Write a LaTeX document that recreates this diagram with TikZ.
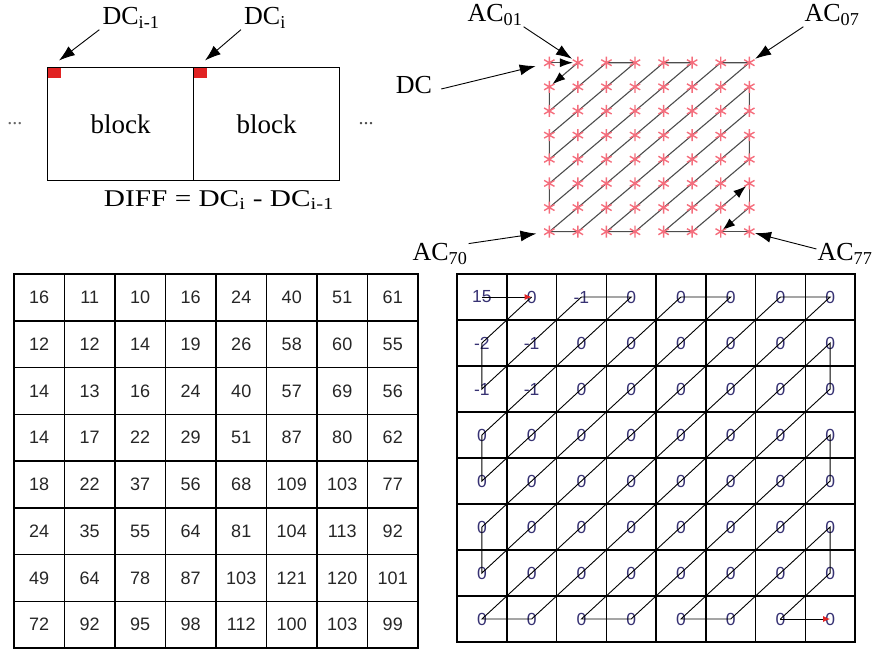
\documentclass[tikz,border=0pt]{standalone}
\usepackage{fontspec}
\setmainfont{Liberation Serif}
\newfontfamily\tabfont{Liberation Sans}
\usetikzlibrary{arrows.meta,positioning}
\definecolor{dcred}{RGB}{225,35,35}
\definecolor{starpink}{RGB}{245,110,125}
\definecolor{coefblue}{RGB}{55,50,115}
\tikzset{
	blockbox/.style={draw, line width=1.3pt, outer sep=0pt, inner sep=0pt,
		minimum width=146pt, minimum height=113pt, font=\fontsize{27}{30}\selectfont},
	lbl/.style={inner sep=1pt, font=\fontsize{26}{30}\selectfont},
	callout/.style={-{Latex[length=16pt,width=11pt]}, line width=0.9pt},
	redsq/.style={fill=dcred, outer sep=0pt, inner sep=0pt, minimum width=13pt, minimum height=10pt},
	acstar/.pic={\draw[starpink, line width=1.4pt] (90:6) -- (270:6) (30:6) -- (210:6)
		(150:6) -- (330:6);},
	scanline/.style={line width=1.1pt, draw=black!70},
	scantip/.style={-{Latex[length=13pt,width=9pt,color=black]}},
	qcell/.style={draw, line width=1.5pt, inner sep=0pt, minimum width=50.5pt, minimum height=46.75pt,
		text=black!85, font=\tabfont\fontsize{18}{20}\selectfont},
	kcell/.style={draw, line width=1.5pt, inner sep=0pt, minimum width=49.75pt, minimum height=46pt,
		text=coefblue, font=\tabfont\fontsize{17.5}{20}\selectfont},
}
\begin{document}
\begin{tikzpicture}[x=1pt,y=1pt]
	\useasboundingbox (0,0) rectangle (880,-649);

	% neighbouring blocks
	\node[blockbox] (blk1) at (120.5,-124) {block};
	\node[blockbox, right=0pt of blk1] (blk2) {block};
	\node[lbl, font=\fontsize{20}{20}\selectfont, text=black!60, left=24pt of blk1] (dotsl) {...};
	\node[lbl, font=\fontsize{20}{20}\selectfont, text=black!70, right=18pt of blk2] (dotsr) {...};
	\node[redsq, anchor=north west] (sq1) at (blk1.north west) {};
	\node[redsq, anchor=north west] (sq2) at (blk2.north west) {};
	\node[lbl] (dcprev) at (131,-18) {DC\textsubscript{i-1}};
	\node[lbl] (dccur) at (265,-18) {DC\textsubscript{i}};
	\draw[callout] ([xshift=-2pt]dcprev.south west) -- ([shift={(5pt,7pt)}]sq1.north);
	\draw[callout] ([xshift=-2pt]dccur.south west) -- ([shift={(5pt,7pt)}]sq2.north);
	\node[lbl, font=\fontsize{24}{28}\selectfont, xscale=1.22] (diff) at (219,-200)
		{DIFF = DC\textsubscript{i} - DC\textsubscript{i-1}};

	% zig-zag order of the coefficients
	\foreach \r in {0,...,7}
		\foreach \c in {0,...,7}
			\coordinate (s-\r-\c) at ({549.3+28.57*\c},{-62.7-24.14*\r});
	\draw[scanline, scantip, shorten >=5pt] (s-0-0) -- (s-0-1);
	\draw[scanline, scantip, shorten >=4pt] (s-0-1) -- (s-1-0);
	\draw[scanline] (s-1-0) \foreach \p in {2-0,0-2,0-3,3-0,4-0,0-4,0-5,5-0,6-0,0-6,0-7,7-0,
		7-1,1-7,2-7,7-2,7-3,3-7,4-7,7-4,7-5} {-- (s-\p)};
	\draw[scanline, scantip, shorten >=4pt] (s-7-5) -- (s-5-7);
	\draw[scanline] (s-5-7) -- (s-6-7);
	\draw[scanline, scantip, shorten >=2pt] (s-6-7) -- (s-7-6);
	\draw[scanline] (s-7-6) -- (s-7-7);
	\foreach \r in {0,...,7}
		\foreach \c in {0,...,7}
			\pic at (s-\r-\c) {acstar};

	\node[lbl] (ac01) at (495,-15) {AC\textsubscript{01}};
	\node[lbl] (ac07) at (832,-15) {AC\textsubscript{07}};
	\node[lbl] (dcl) at (414,-85) {DC};
	\node[lbl] (ac70) at (440,-254) {AC\textsubscript{70}};
	\node[lbl] (ac77) at (845,-254) {AC\textsubscript{77}};
	\draw[callout, shorten >=7pt] (ac01.south east) -- (s-0-1);
	\draw[callout, shorten >=7pt] (ac07.south west) -- (s-0-7);
	\draw[callout, shorten >=14pt] ([shift={(8pt,-4pt)}]dcl.east) -- (s-0-0);
	\draw[callout, shorten >=13pt] (ac70.20) -- (s-7-0);
	\draw[callout, shorten >=6pt] (ac77.170) -- (s-7-7);

	% quantization table
	\foreach \row [count=\r from 0] in {{16,11,10,16,24,40,51,61},{12,12,14,19,26,58,60,55},
		{14,13,16,24,40,57,69,56},{14,17,22,29,51,87,80,62},{18,22,37,56,68,109,103,77},
		{24,35,55,64,81,104,113,92},{49,64,78,87,103,121,120,101},{72,92,95,98,112,100,103,99}}
		\foreach \v [count=\c from 0] in \row
			\node[qcell] (q-\r-\c) at ({39.25+50.5*\c},{-297.4-46.75*\r}) {\v};

	% quantized coefficients
	\foreach \row [count=\r from 0] in {{15,0,-1,0,0,0,0,0},{-2,-1,0,0,0,0,0,0},{-1,-1,0,0,0,0,0,0},
		{0,0,0,0,0,0,0,0},{0,0,0,0,0,0,0,0},{0,0,0,0,0,0,0,0},{0,0,0,0,0,0,0,0},{0,0,0,0,0,0,0,0}}
		\foreach \v [count=\c from 0] in \row
			\node[kcell] (k-\r-\c) at ({481.9+49.75*\c},{-297-46*\r}) {\v};
	\draw[line width=0.9pt, -{Latex[length=7pt,width=6pt,color=dcred]}] (k-0-0.center) -- (k-0-1.center);
	\draw[line width=0.9pt] (k-0-1.center) -- (k-1-0.center) \foreach \p in {2-0,0-2,0-3,3-0,4-0,0-4,0-5,
		5-0,6-0,0-6,0-7,7-0,7-1,1-7,2-7,7-2,7-3,3-7,4-7,7-4,7-5,5-7,6-7,7-6} {-- (k-\p.center)};
	\draw[line width=0.9pt, -{Latex[length=7pt,width=6pt,color=dcred]}] (k-7-6.center) -- (k-7-7.center);
\end{tikzpicture}
\end{document}
